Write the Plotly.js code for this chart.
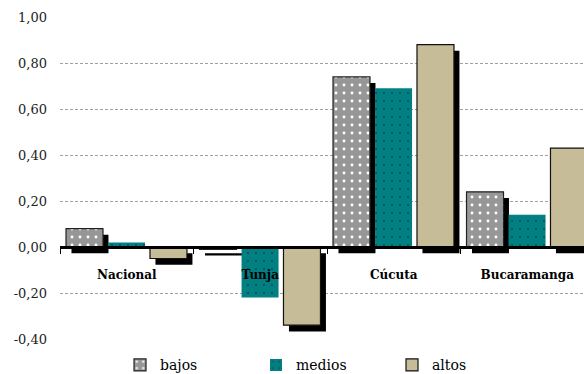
<!DOCTYPE html>
<html>
<head>
<meta charset="utf-8">
<script src="https://cdn.plot.ly/plotly-3.0.1.min.js"></script>
<style>
  html, body { margin: 0; padding: 0; overflow: hidden; background: #fff; }
  #chart { width: 584px; height: 374px; }
</style>
</head>
<body>
<div id="chart"></div>
<script>
// Ciudades y variación por nivel socioeconómico
const categories = ['Nacional', 'Tunja', 'Cúcuta', 'Bucaramanga'];
const bajos  = [0.08, -0.01, 0.74, 0.24];
const medios = [0.02, -0.22, 0.69, 0.14];
const altos  = [-0.05, -0.34, 0.88, 0.43];
const yTickVals = [-0.4, -0.2, 0, 0.2, 0.4, 0.6, 0.8, 1.0];
const yTickText = ['-0,40', '-0,20', '0,00', '0,20', '0,40', '0,60', '0,80', '1,00'];

// Geometry of the bar groups (category units)
const barW = 0.277;
const offs = { bajos: -0.455, medios: -0.14, altos: 0.174 };
// Drop-shadow displacement: right in category units, down in value units
const shDx = 0.041;
const shDy = 0.027;

const font = 'DejaVu Serif';

function shadow(vals, off) {
  return {
    type: 'bar', x: categories, y: vals, base: -shDy,
    width: barW, offset: off + shDx,
    marker: { color: '#000', line: { width: 0 } },
    showlegend: false, hoverinfo: 'skip'
  };
}

const data = [
  shadow(bajos, offs.bajos),
  shadow(altos, offs.altos),
  {
    type: 'bar', name: 'bajos', x: categories, y: bajos,
    width: barW, offset: offs.bajos,
    marker: {
      color: '#979797',
      line: { color: '#222', width: 1.2 },
      pattern: { shape: '.', fgcolor: '#ffffff', bgcolor: '#979797', size: 8, solidity: 0.1 }
    }
  },
  {
    type: 'bar', name: 'medios', x: categories, y: medios,
    width: barW, offset: offs.medios,
    marker: {
      color: '#008080',
      line: { width: 0 },
      pattern: { shape: '.', fgcolor: '#1b4466', bgcolor: '#008080', size: 8, solidity: 0.06 }
    }
  },
  {
    type: 'bar', name: 'altos', x: categories, y: altos,
    width: barW, offset: offs.altos,
    marker: { color: '#c6bd98', line: { color: '#111', width: 1.2 } }
  }
];

const layout = {
  width: 584, height: 374,
  margin: { l: 60, r: 0, t: 17, b: 35 },
  paper_bgcolor: '#fff', plot_bgcolor: '#fff',
  barmode: 'overlay',
  separators: ',.',
  font: { family: font, color: '#000' },
  xaxis: {
    type: 'category', range: [-0.5, 3.425],
    anchor: 'free', position: 0.4 / 1.4,
    showline: true, linecolor: '#000', linewidth: 2.5,
    ticks: 'outside', ticklen: 5, tickwidth: 1, tickcolor: '#000',
    tickson: 'boundaries', showgrid: false, zeroline: false,
    ticklabelstandoff: 16,
    tickfont: { family: font, size: 12, color: '#000', weight: 'bold' },
    fixedrange: true
  },
  yaxis: {
    range: [-0.4, 1.0], tickvals: yTickVals, ticktext: yTickText,
    showgrid: true, gridcolor: '#a0a0a0', gridwidth: 1, griddash: '3px,2px',
    zeroline: false, showline: false, ticks: '',
    ticklabelstandoff: 12,
    tickfont: { family: font, size: 13, color: '#222' },
    fixedrange: true
  },
  legend: {
    orientation: 'h', xref: 'container', yref: 'container',
    x: 0.2055, xanchor: 'left', y: 0.066, yanchor: 'top',
    font: { family: font, size: 14, color: '#000' },
    entrywidth: 91, itemwidth: 30, traceorder: 'normal',
    bgcolor: 'rgba(0,0,0,0)'
  },
  showlegend: true
};

Plotly.newPlot('chart', data, layout, { staticPlot: true, displayModeBar: false });
</script>
</body>
</html>
